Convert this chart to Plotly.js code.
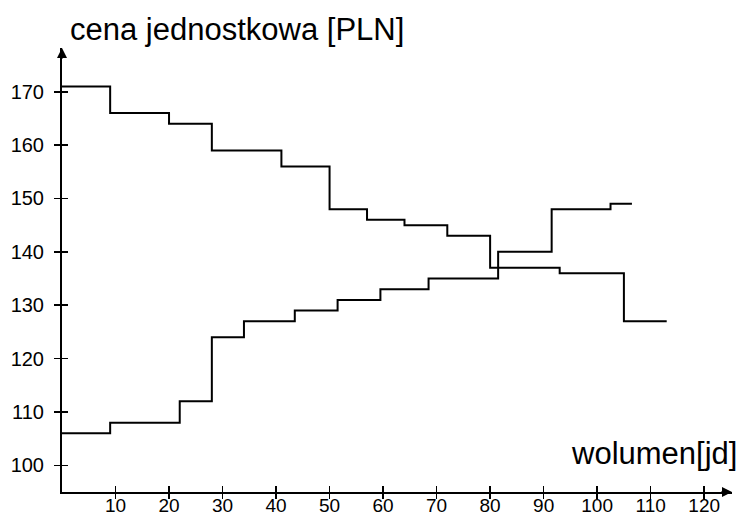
<!DOCTYPE html>
<html>
<head>
<meta charset="utf-8">
<script src="https://cdn.plot.ly/plotly-3.0.1.min.js"></script>
<style>html,body{margin:0;padding:0;background:#fff;}#chart{width:740px;height:520px;}</style>
</head>
<body>
<div id="chart"></div>
<script>
// Demand (falling) step curve: volume edges and unit-price levels
const demandVolume = [0, 9, 20, 28, 41, 50, 57, 64, 72, 80, 93, 105, 113];
const demandPrice  = [171, 166, 164, 159, 156, 148, 146, 145, 143, 137, 136, 127, 127];
// Supply (rising) step curve
const supplyVolume = [0, 9, 22, 28, 34, 43.5, 51.5, 59.5, 68.5, 81.5, 91.5, 102.5, 106.5];
const supplyPrice  = [106, 108, 112, 124, 127, 129, 131, 133, 135, 140, 148, 149, 149];
// Tick labels
const xTicks = [10, 20, 30, 40, 50, 60, 70, 80, 90, 100, 110, 120];
const yTicks = [100, 110, 120, 130, 140, 150, 160, 170];

const xRange = [0, 125.2];
const yRange = [95, 178.2];
const font = "Liberation Sans, Arial, sans-serif";

const lineStyle = {color: '#000', width: 2, shape: 'hv'};
const traces = [
  {x: demandVolume, y: demandPrice, mode: 'lines', line: lineStyle, xaxis: 'x', yaxis: 'y', hoverinfo: 'skip'},
  {x: supplyVolume, y: supplyPrice, mode: 'lines', line: lineStyle, xaxis: 'x2', yaxis: 'y2', hoverinfo: 'skip'},
  {x: [], y: [], mode: 'lines', xaxis: 'x3', yaxis: 'y3', hoverinfo: 'skip'}
];

const baseAxis = {
  showgrid: false, zeroline: false, fixedrange: true,
  tickcolor: '#000', tickwidth: 1.5, ticklen: 6
};

const layout = {
  width: 740, height: 520,
  margin: {l: 62, r: 8, t: 48, b: 28},
  paper_bgcolor: '#fff', plot_bgcolor: '#fff',
  showlegend: false,
  font: {family: font, color: '#000', size: 20},
  xaxis: Object.assign({}, baseAxis, {
    range: xRange, tickvals: xTicks, ticktext: xTicks.map(String), ticks: '',
    showline: true, linecolor: '#000', linewidth: 2,
    tickfont: {family: font, size: 19, color: '#000'}, ticklabelstandoff: -5
  }),
  yaxis: Object.assign({}, baseAxis, {
    range: yRange, tickvals: yTicks, ticktext: yTicks.map(String), ticks: 'outside',
    showline: true, linecolor: '#000', linewidth: 2,
    tickfont: {family: font, size: 20, color: '#000'}, ticklabelstandoff: 6
  }),
  xaxis2: Object.assign({}, baseAxis, {
    range: xRange, tickvals: xTicks, ticks: 'inside', overlaying: 'x', side: 'bottom',
    showticklabels: false, showline: false
  }),
  yaxis2: Object.assign({}, baseAxis, {
    range: yRange, tickvals: yTicks, ticks: 'inside', overlaying: 'y', side: 'left',
    showticklabels: false, showline: false
  }),
  xaxis3: Object.assign({}, baseAxis, {
    range: xRange, tickvals: xTicks, ticks: 'outside', overlaying: 'x', side: 'bottom',
    showticklabels: false, showline: false
  }),
  yaxis3: Object.assign({}, baseAxis, {
    range: yRange, tickvals: [], ticks: '', overlaying: 'y', side: 'left',
    showticklabels: false, showline: false
  }),
  annotations: [
    {xref: 'paper', yref: 'paper', x: (68 - 62) / 670, y: (492 - 29) / 444,
     xanchor: 'left', yanchor: 'middle', showarrow: false,
     text: 'cena jednostkowa [PLN]', font: {family: font, size: 31, color: '#000'}},
    {xref: 'paper', yref: 'paper', x: (739 - 62) / 670, y: (492 - 453) / 444,
     xanchor: 'right', yanchor: 'middle', showarrow: false,
     text: 'wolumen[jd]', font: {family: font, size: 31, color: '#000'}},
    {xref: 'x', yref: 'y', x: 0, y: yRange[1], ax: 0, ay: 12, text: '', showarrow: true,
     arrowhead: 2, arrowsize: 1, arrowwidth: 2, arrowcolor: '#000', standoff: 0},
    {xref: 'x', yref: 'y', x: xRange[1], y: yRange[0], ax: -12, ay: 0, text: '', showarrow: true,
     arrowhead: 2, arrowsize: 1, arrowwidth: 2, arrowcolor: '#000', standoff: 0}
  ]
};

Plotly.newPlot('chart', traces, layout, {displayModeBar: false, staticPlot: true});
</script>
</body>
</html>
